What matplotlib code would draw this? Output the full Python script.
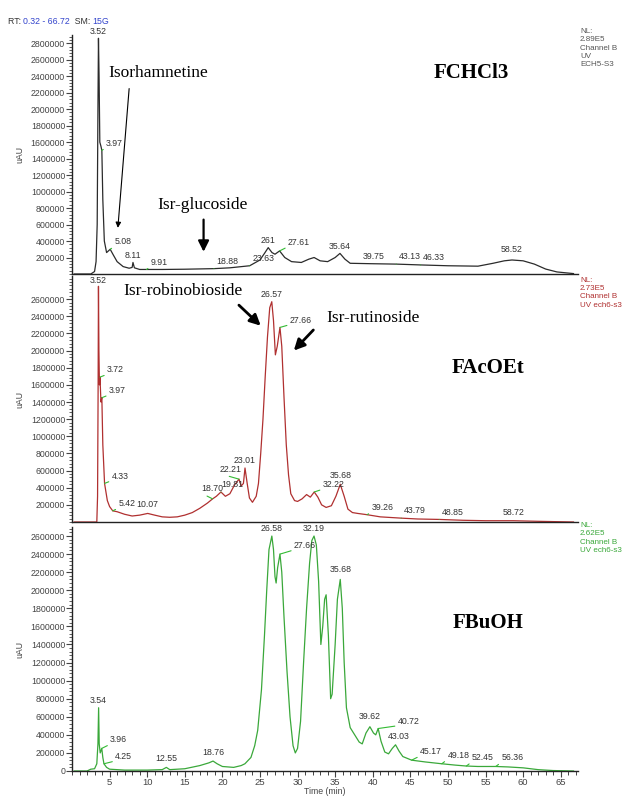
import matplotlib
matplotlib.use("Agg")
import matplotlib.pyplot as plt
from matplotlib.ticker import MultipleLocator, FuncFormatter

# ---------------- data ----------------
# FCHCl3 trace (time in min, signal in uAU)
t_chcl3 = [0.3, 2.5, 3.0, 3.2, 3.35, 3.45, 3.52, 3.6, 3.7, 3.85, 3.97, 4.1, 4.3, 4.6, 5.08,
           5.5, 6.0, 6.8, 7.6, 8.0, 8.11, 8.3, 9.0, 9.91, 12, 15, 18.88, 21, 23.63, 25.0,
           25.6, 26.1, 26.6, 27.0, 27.61, 28.3, 29.2, 30.5, 31.5, 32.2, 33.0, 34.0, 35.0,
           35.64, 36.3, 37.0, 39.75, 43.13, 46.33, 50, 54, 56, 57.5, 58.52, 60, 61.5, 63,
           64.5, 66.7]
v_chcl3 = [0, 0, 30e3, 150e3, 600e3, 2000e3, 2860e3, 2400e3, 1600e3, 1550e3, 1500e3, 900e3,
           400e3, 260e3, 300e3, 230e3, 150e3, 90e3, 70e3, 80e3, 140e3, 75e3, 55e3, 55e3, 55e3,
           58e3, 65e3, 75e3, 100e3, 170e3, 250e3, 320e3, 260e3, 240e3, 280e3, 200e3, 150e3,
           140e3, 180e3, 200e3, 160e3, 150e3, 200e3, 250e3, 180e3, 130e3, 125e3, 120e3,
           110e3, 100e3, 95e3, 130e3, 160e3, 170e3, 160e3, 120e3, 60e3, 25e3, 5e3]

# FAcOEt trace
t_acoet = [0.3, 3.3, 3.4, 3.47, 3.52, 3.58, 3.65, 3.72, 3.85, 3.97, 4.1, 4.33, 4.7, 5.0, 5.42,
           6.0, 7.0, 8.0, 9.0, 10.07, 11, 12, 13, 14, 15, 16, 17, 18, 18.70, 19.2, 19.81, 20.4,
           21.0, 21.6, 22.21, 22.5, 22.8, 23.01, 23.3, 23.6, 24.0, 24.5, 24.8, 25.1, 25.4,
           25.7, 26.0, 26.3, 26.57, 26.8, 27.05, 27.3, 27.66, 27.9, 28.2, 28.5, 28.8, 29.1,
           29.6, 30.0, 30.6, 31.2, 31.7, 32.22, 32.7, 33.2, 33.8, 34.5, 35.1, 35.68, 36.2,
           36.7, 37.3, 38.0, 39.26, 41, 43.79, 46, 48.85, 52, 55, 58.72, 62, 65, 66.7]
v_acoet = [0, 0, 300e3, 1500e3, 2750e3, 2000e3, 1600e3, 1690e3, 1400e3, 1450e3, 900e3, 450e3,
           250e3, 180e3, 130e3, 120e3, 90e3, 70e3, 80e3, 100e3, 80e3, 60e3, 55e3, 60e3, 80e3,
           110e3, 160e3, 220e3, 270e3, 300e3, 350e3, 300e3, 330e3, 430e3, 500e3, 420e3,
           450e3, 630e3, 450e3, 280e3, 230e3, 300e3, 450e3, 800e3, 1200e3, 1700e3, 2160e3,
           2500e3, 2570e3, 2350e3, 1950e3, 2050e3, 2270e3, 2050e3, 1450e3, 900e3, 550e3,
           330e3, 250e3, 240e3, 270e3, 320e3, 290e3, 350e3, 290e3, 200e3, 170e3, 190e3,
           300e3, 440e3, 300e3, 150e3, 110e3, 100e3, 85e3, 60e3, 45e3, 35e3, 30e3, 20e3,
           15e3, 15e3, 8e3, 3e3, 0]

# FBuOH trace
t_buoh = [0.3, 2.0, 2.5, 3.0, 3.3, 3.45, 3.54, 3.62, 3.75, 3.96, 4.1, 4.25, 4.6, 5.0, 7, 10,
          12, 12.55, 13, 15, 17, 18.2, 18.76, 19.3, 20, 21.5, 22.5, 23.0, 23.8, 24.3, 24.7,
          25.2, 25.6, 25.9, 26.2, 26.58, 26.8, 27.0, 27.15, 27.35, 27.66, 27.9, 28.2, 28.6,
          29.0, 29.4, 29.7, 30.0, 30.4, 30.8, 31.2, 31.6, 31.9, 32.19, 32.5, 32.8, 33.1,
          33.35, 33.6, 33.8, 34.1, 34.4, 34.6, 35.0, 35.3, 35.68, 35.95, 36.2, 36.5, 37.0,
          37.6, 38.2, 38.6, 39.1, 39.62, 40.1, 40.4, 40.72, 41.1, 41.6, 42.1, 42.6, 43.03,
          43.5, 44.0, 45.17, 47, 49.18, 51, 52.45, 54, 56.36, 58, 60, 62, 64, 66.7]
v_buoh = [0, 0, 20e3, 25e3, 80e3, 300e3, 700e3, 300e3, 200e3, 250e3, 150e3, 80e3, 40e3, 20e3,
          10e3, 10e3, 15e3, 40e3, 15e3, 25e3, 60e3, 90e3, 110e3, 80e3, 50e3, 40e3, 60e3,
          80e3, 150e3, 280e3, 450e3, 900e3, 1500e3, 2000e3, 2450e3, 2600e3, 2450e3, 2150e3,
          2080e3, 2250e3, 2400e3, 2200e3, 1700e3, 1100e3, 600e3, 280e3, 200e3, 250e3,
          550e3, 1200e3, 1800e3, 2300e3, 2550e3, 2600e3, 2500e3, 2100e3, 1400e3, 1600e3,
          1900e3, 1950e3, 1500e3, 800e3, 850e3, 1400e3, 1900e3, 2120e3, 1800e3, 1200e3,
          700e3, 480e3, 400e3, 320e3, 300e3, 420e3, 490e3, 420e3, 400e3, 470e3, 330e3,
          210e3, 190e3, 250e3, 290e3, 220e3, 160e3, 120e3, 100e3, 80e3, 65e3, 55e3, 50e3,
          50e3, 45e3, 35e3, 15e3, 5e3, 0]

# peak labels: (retention time, height, label)
pk_chcl3_t = [3.52, 3.97, 5.08, 8.11, 9.91, 18.88, 23.63, 26.1, 27.61, 35.64, 39.75, 43.13, 46.33, 58.52]
pk_chcl3_v = [2860e3, 1500e3, 300e3, 140e3, 55e3, 65e3, 100e3, 320e3, 280e3, 250e3, 125e3, 120e3, 110e3, 170e3]
pk_chcl3_lab = ["3.52", "3.97", "5.08", "8.11", "9.91", "18.88", "23.63", "261", "27.61",
                "35.64", "39.75", "43.13", "46.33", "58.52"]

pk_acoet_t = [3.52, 3.72, 3.97, 4.33, 5.42, 10.07, 18.70, 19.81, 22.21, 23.01, 26.57, 27.66,
              32.22, 35.68, 39.26, 43.79, 48.85, 58.72]
pk_acoet_v = [2750e3, 1690e3, 1450e3, 450e3, 130e3, 100e3, 270e3, 350e3, 500e3, 630e3, 2570e3,
              2270e3, 350e3, 440e3, 85e3, 45e3, 30e3, 15e3]
pk_acoet_lab = ["3.52", "3.72", "3.97", "4.33", "5.42", "10.07", "18.70", "19.81", "22.21",
                "23.01", "26.57", "27.66", "32.22", "35.68", "39.26", "43.79", "48.85", "58.72"]

pk_buoh_t = [3.54, 3.96, 4.25, 12.55, 18.76, 26.58, 27.66, 32.19, 35.68, 39.62, 40.72, 43.03,
             45.17, 49.18, 52.45, 56.36]
pk_buoh_v = [700e3, 250e3, 80e3, 40e3, 110e3, 2600e3, 2400e3, 2600e3, 2120e3, 490e3, 470e3,
             290e3, 120e3, 80e3, 55e3, 50e3]
pk_buoh_lab = ["3.54", "3.96", "4.25", "12.55", "18.76", "26.58", "27.66", "32.19", "35.68",
               "39.62", "40.72", "43.03", "45.17", "49.18", "52.45", "56.36"]

# label offsets in points (dx, dy) and whether a green leader line is drawn (style)
off_chcl3 = [(0, 2, 0), (3, 2, 1), (3, 2, 1), (0, 2, 0), (3, 2, 1), (2, 2, 1), (2, 2, 1),
             (0, 2, 0), (6, 3, 1), (0, 2, 0), (2, 2, 0), (2, 2, 1), (2, 2, 1), (0, 4, 0)]
off_acoet = [(0, 1, 0), (5, 2, 1), (5, 2, 1), (5, 2, 1), (4, 2, 1), (0, 3, 0), (-8, 4, 1),
             (0, 2, 1), (-14, 4, 1), (0, 2, 0), (0, 2, 0), (7, 2, 1), (6, 2, 1), (0, 3, 0),
             (3, 2, 1), (2, 2, 1), (2, 2, 1), (0, 3, 0)]
off_buoh = [(0, 2, 0), (6, 3, 1), (8, 2, 1), (0, 3, 0), (0, 3, 0), (0, 2, 0), (10, 3, 1),
            (0, 2, 0), (0, 4, 0), (0, 4, 0), (14, 2, 1), (2, 3, 0), (6, 3, 1), (4, 3, 1),
            (4, 3, 1), (4, 3, 1)]

x_max = 67.3
# ---------------- figure ----------------
W, H = 631, 796
fig = plt.figure(figsize=(W / 100, H / 100), dpi=100)
TICKFONT = ["Liberation Sans", "DejaVu Sans"]
SERIF = ["Liberation Serif", "DejaVu Serif"]


def px_axes(left, right, top, bottom):
    return fig.add_axes([left / W, 1 - bottom / H, (right - left) / W, (bottom - top) / H])


def style_axes(ax, ymax, ystart, ytop, xticks):
    ax.set_xlim(0, x_max)
    ax.set_ylim(0, ymax)
    for s in ("top", "right"):
        ax.spines[s].set_visible(False)
    for s in ("left", "bottom"):
        ax.spines[s].set_linewidth(1.0)
        ax.spines[s].set_color("#222222")
    yt = list(range(ystart, ytop + 1, 200000))
    ax.set_yticks(yt)
    ax.yaxis.set_minor_locator(MultipleLocator(40000))
    ax.yaxis.set_major_formatter(FuncFormatter(lambda v, p: "%d" % v))
    ax.tick_params(axis="y", which="major", direction="out", length=4, width=0.8,
                   labelsize=6.3, labelcolor="#444444", pad=1, colors="#444444")
    ax.tick_params(axis="y", which="minor", direction="out", length=2.5, width=0.6,
                   colors="#444444")
    for lab in ax.get_yticklabels():
        lab.set_family(TICKFONT)
    if xticks:
        ax.set_xticks(list(range(5, 66, 5)))
        ax.xaxis.set_minor_locator(MultipleLocator(1))
        ax.tick_params(axis="x", which="major", direction="out", length=4, width=0.8,
                       labelsize=6.8, labelcolor="#444444", pad=1, colors="#444444")
        ax.tick_params(axis="x", which="minor", direction="out", length=3, width=0.7,
                       colors="#444444")
        for lab in ax.get_xticklabels():
            lab.set_family(TICKFONT)
    else:
        ax.set_xticks([])
    ax.set_ylabel("uAU", fontsize=6.3, color="#444444", family=TICKFONT)
    ax.yaxis.set_label_coords(-0.095, 0.5)
    ax.patch.set_alpha(0)


def peak_labels(ax, ts, vs, labs, offs):
    for t, v, lab, (dx, dy, g) in zip(ts, vs, labs, offs):
        if g:
            ax.annotate(lab, xy=(t, v), xytext=(dx, dy), textcoords="offset points",
                        ha="left", va="bottom", fontsize=6.3, color="#333333",
                        family=TICKFONT,
                        arrowprops=dict(arrowstyle="-", color="#33bb33", lw=0.8,
                                        shrinkA=0, shrinkB=0, relpos=(0, 0)))
        else:
            ax.annotate(lab, xy=(t, v), xytext=(dx, dy), textcoords="offset points",
                        ha="center", va="bottom", fontsize=6.3, color="#333333",
                        family=TICKFONT)


# --- top panel: FCHCl3
ax1 = px_axes(72, 578, 35, 274)
ax1.plot(t_chcl3, v_chcl3, color="#2b2b2b", lw=0.9)
style_axes(ax1, 2.9e6, 200000, 2800000, False)
peak_labels(ax1, pk_chcl3_t, pk_chcl3_v, pk_chcl3_lab, off_chcl3)

# --- middle panel: FAcOEt
ax2 = px_axes(72, 578, 276, 522)
ax2.plot(t_acoet, v_acoet, color="#b03030", lw=0.9)
style_axes(ax2, 2.87e6, 200000, 2600000, False)
peak_labels(ax2, pk_acoet_t, pk_acoet_v, pk_acoet_lab, off_acoet)

# --- bottom panel: FBuOH
ax3 = px_axes(72, 578, 527, 771)
ax3.plot(t_buoh, v_buoh, color="#3aa83a", lw=0.9)
style_axes(ax3, 2.70e6, 0, 2600000, True)
peak_labels(ax3, pk_buoh_t, pk_buoh_v, pk_buoh_lab, off_buoh)

fig.text(325 / W, 1 - 792 / H, "Time (min)", fontsize=6.3, color="#444444",
         family=TICKFONT, ha="center", va="center")

# --- compound annotations
ax1.text(4.8, 2.44e6, "Isorhamnetine", fontsize=12.5, family=SERIF, ha="left", va="center")
ax1.annotate("", xy=(6.1, 0.56e6), xytext=(7.6, 2.25e6),
             arrowprops=dict(arrowstyle="-|>", color="k", lw=0.8, mutation_scale=8,
                             shrinkA=0, shrinkB=0))
ax1.text(17.4, 0.84e6, "Isr-glucoside", fontsize=12.5, family=SERIF, ha="center", va="center")
ax1.annotate("", xy=(17.5, 0.27e6), xytext=(17.5, 0.66e6),
             arrowprops=dict(arrowstyle="-|>", color="k", lw=1.6, mutation_scale=16,
                             shrinkA=0, shrinkB=0))
ax1.text(53.1, 2.44e6, "FCHCl3", fontsize=15, family=SERIF, fontweight="bold",
         ha="center", va="center")

ax2.text(14.7, 2.69e6, "Isr-robinobioside", fontsize=12.5, family=SERIF, ha="center",
         va="center")
ax2.annotate("", xy=(25.1, 2.29e6), xytext=(22.2, 2.53e6),
             arrowprops=dict(arrowstyle="-|>", color="k", lw=2.0, mutation_scale=16,
                             shrinkA=0, shrinkB=0))
ax2.text(40.0, 2.38e6, "Isr-rutinoside", fontsize=12.5, family=SERIF, ha="center",
         va="center")
ax2.annotate("", xy=(29.5, 2.0e6), xytext=(32.1, 2.24e6),
             arrowprops=dict(arrowstyle="-|>", color="k", lw=2.0, mutation_scale=16,
                             shrinkA=0, shrinkB=0))
ax2.text(55.3, 1.8e6, "FAcOEt", fontsize=15, family=SERIF, fontweight="bold",
         ha="center", va="center")

ax3.text(55.3, 1.64e6, "FBuOH", fontsize=15, family=SERIF, fontweight="bold",
         ha="center", va="center")

# --- instrument info texts
fig.text(580 / W, 1 - 28 / H, "NL:\n2.89E5\nChannel B\nUV\nECH5-S3", fontsize=5.8,
         color="#555555", family=TICKFONT, ha="left", va="top", linespacing=1.25)
fig.text(580 / W, 1 - 277 / H, "NL:\n2.73E5\nChannel B\nUV ech6-s3", fontsize=5.8,
         color="#b03030", family=TICKFONT, ha="left", va="top", linespacing=1.25)
fig.text(580 / W, 1 - 522 / H, "NL:\n2.62E5\nChannel B\nUV ech6-s3", fontsize=5.8,
         color="#3aa83a", family=TICKFONT, ha="left", va="top", linespacing=1.25)

# RT / SM header
hx = 8
hy = 1 - 21 / H
parts = [("RT: ", "#333333"), ("0.32 - 66.72", "#3344cc"), ("  SM: ", "#333333"),
         ("15G", "#3344cc")]
renderer = fig.canvas.get_renderer()
for txt, col in parts:
    tt = fig.text(hx / W, hy, txt, fontsize=6.3, color=col, family=TICKFONT,
                  ha="left", va="center")
    bb = tt.get_window_extent(renderer=renderer)
    hx += bb.width

fig.savefig("out.png", dpi=100)
